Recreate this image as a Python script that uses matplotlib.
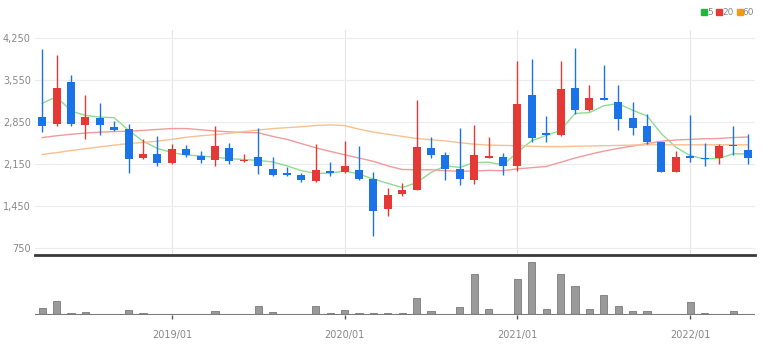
import matplotlib.pyplot as plt
import pandas as pd
from matplotlib.lines import Line2D

# monthly candles, 2018/04 .. 2022/05
months = pd.date_range("2018-04-01", periods=50, freq="MS")

opens = [2940, 2810, 3510, 2800, 2910, 2760, 2730, 2245, 2320, 2160,
         2400, 2290, 2220, 2420, 2200, 2270, 2065, 2000, 1965, 1870,
         2030, 2010, 2050, 1900, 1400, 1650, 1715, 2415, 2300, 2065,
         1890, 2250, 2270, 2120, 3295, 2670, 2640, 3420, 3045, 3245,
         3175, 2915, 2785, 2515, 2025, 2280, 2250, 2245, 2465, 2390]
highs = [4060, 3970, 3630, 3290, 3160, 2870, 2820, 2570, 2620, 2480,
         2470, 2360, 2790, 2500, 2310, 2750, 2270, 2095, 2000, 2480,
         2190, 2540, 2455, 2020, 1745, 1835, 3220, 2600, 2345, 2750,
         2800, 2600, 2335, 3865, 3890, 2950, 3865, 4075, 3465, 3795,
         3465, 3175, 2990, 2520, 2375, 2970, 2500, 2485, 2785, 2645]
lows = [2690, 2790, 2780, 2570, 2630, 2700, 2000, 2240, 2120, 2150,
        2270, 2170, 2110, 2150, 2190, 1980, 1955, 1955, 1855, 1845,
        1955, 2000, 1885, 950, 1290, 1625, 1715, 2250, 1885, 1810,
        1815, 2250, 1965, 2040, 2515, 2515, 2615, 2975, 3030, 3210,
        2710, 2640, 2490, 2015, 2015, 2190, 2120, 2150, 2300, 2150]
closes = [2790, 3420, 2810, 2940, 2800, 2720, 2240, 2310, 2170, 2400,
          2300, 2220, 2445, 2205, 2215, 2120, 1970, 1970, 1885, 2050,
          2005, 2120, 1910, 1370, 1640, 1720, 2430, 2305, 2065, 1910,
          2300, 2280, 2110, 3155, 2590, 2640, 3405, 3055, 3240, 3220,
          2905, 2755, 2515, 2025, 2275, 2245, 2230, 2455, 2445, 2245]

ma5 = [3160, 3270, 3030, 2960, 2930, 2920, 2710, 2530, 2410, 2340,
       2300, 2285, 2265, 2240, 2225, 2210, 2185, 2120, 2040, 1995,
       2000, 2035, 1985, 1900, 1830, 1760, 1840, 2010, 2120, 2095,
       2175, 2180, 2135, 2345, 2540, 2625, 2710, 2990, 3005, 3120,
       3155, 3045, 2950, 2655, 2430, 2290, 2235, 2245, 2320, 2320]
ma20 = [2590, 2620, 2645, 2665, 2680, 2690, 2695, 2710, 2725, 2740,
        2740, 2720, 2700, 2685, 2675, 2670, 2610, 2560, 2490, 2420,
        2360, 2305, 2250, 2195, 2120, 2060, 2055, 2055, 2040, 2030,
        2035, 2045, 2040, 2070, 2090, 2110, 2180, 2250, 2310, 2365,
        2410, 2450, 2490, 2530, 2550, 2560, 2570, 2575, 2590, 2600]
ma60 = [2310, 2340, 2375, 2405, 2435, 2465, 2490, 2510, 2530, 2560,
        2595, 2620, 2640, 2660, 2690, 2715, 2740, 2755, 2770, 2790,
        2800, 2790, 2730, 2680, 2645, 2610, 2575, 2555, 2535, 2505,
        2480, 2465, 2460, 2455, 2445, 2440, 2440, 2445, 2450, 2455,
        2460, 2465, 2470, 2470, 2470, 2470, 2470, 2470, 2470, 2470]

volume = [22, 43, 7, 9, 4, 4, 14, 7, 3, 1,
          1, 1, 13, 4, 1, 28, 9, 1, 1, 28,
          7, 14, 7, 7, 7, 5, 52, 12, 1, 23,
          123, 18, 2, 108, 158, 18, 123, 87, 17, 60,
          28, 13, 13, 2, 2, 38, 7, 2, 12, 3]

yticks = [750, 1450, 2150, 2850, 3550, 4250]

UP = "#e53935"
DOWN = "#1a73e8"

fig = plt.figure(figsize=(7.7, 3.54), dpi=100)
ax = fig.add_axes([0.0455, 0.2797, 0.935, 0.6356])
axv = fig.add_axes([0.0455, 0.110, 0.935, 0.161], sharex=ax)

x = list(range(len(months)))

# candles
for i in x:
    o, h, l, c = opens[i], highs[i], lows[i], closes[i]
    col = UP if c >= o else DOWN
    ax.vlines(i, l, h, color=col, lw=1, zorder=3)
    bottom = min(o, c)
    height = max(abs(c - o), 15)
    ax.bar(i, height, bottom=bottom, width=0.55, color=col, zorder=4)

ax.plot(x, ma5, color="#8fdc8f", lw=1.0, zorder=2)
ax.plot(x, ma20, color="#f39a9a", lw=1.0, zorder=2)
ax.plot(x, ma60, color="#f8c090", lw=1.0, zorder=2)

ax.set_ylim(639, 4378)
ax.set_xlim(-0.5, 49.5)
ax.set_yticks(yticks)
ax.set_yticklabels([f"{v:,}" for v in yticks])
ax.grid(axis="y", color="#ececec", lw=0.8, zorder=0)

year_idx = [i for i, m in enumerate(months) if m.month == 1]
for i in year_idx:
    ax.axvline(i, color="#e6e6e6", lw=0.8, zorder=0)

for s in ["top", "right", "left"]:
    ax.spines[s].set_visible(False)
ax.spines["bottom"].set_color("#3a3a3a")
ax.spines["bottom"].set_linewidth(2)
ax.tick_params(axis="y", length=0, pad=3, labelsize=7, labelcolor="#888888")
ax.tick_params(axis="x", length=0, labelbottom=False)

# volume
axv.bar(x, volume, width=0.5, color="#9a9a9a", edgecolor="#7a7a7a", lw=0.6, zorder=3)
axv.axhline(0, color="#7a7a7a", lw=1.5, zorder=4)
axv.set_ylim(0, 170)
axv.set_xticks(year_idx)
axv.set_xticklabels([months[i].strftime("%Y/%m") for i in year_idx])
axv.tick_params(axis="x", length=3, width=1, color="#555555", pad=8,
                labelsize=7, labelcolor="#888888")
axv.set_yticks([])
for s in axv.spines.values():
    s.set_visible(False)

# legend
handles = [Line2D([], [], marker="s", ls="", color=c, markersize=4.5)
           for c in ["#22b43c", UP, "#f39c12"]]
fig.legend(handles, ["5", "20", "60"], loc="upper right",
           bbox_to_anchor=(0.99, 1.0), ncol=3, frameon=False,
           handlelength=0.5, handletextpad=0.1, columnspacing=0.4,
           fontsize=6.5, labelcolor="#888888")

fig.savefig("out.png", dpi=100, facecolor="white")
